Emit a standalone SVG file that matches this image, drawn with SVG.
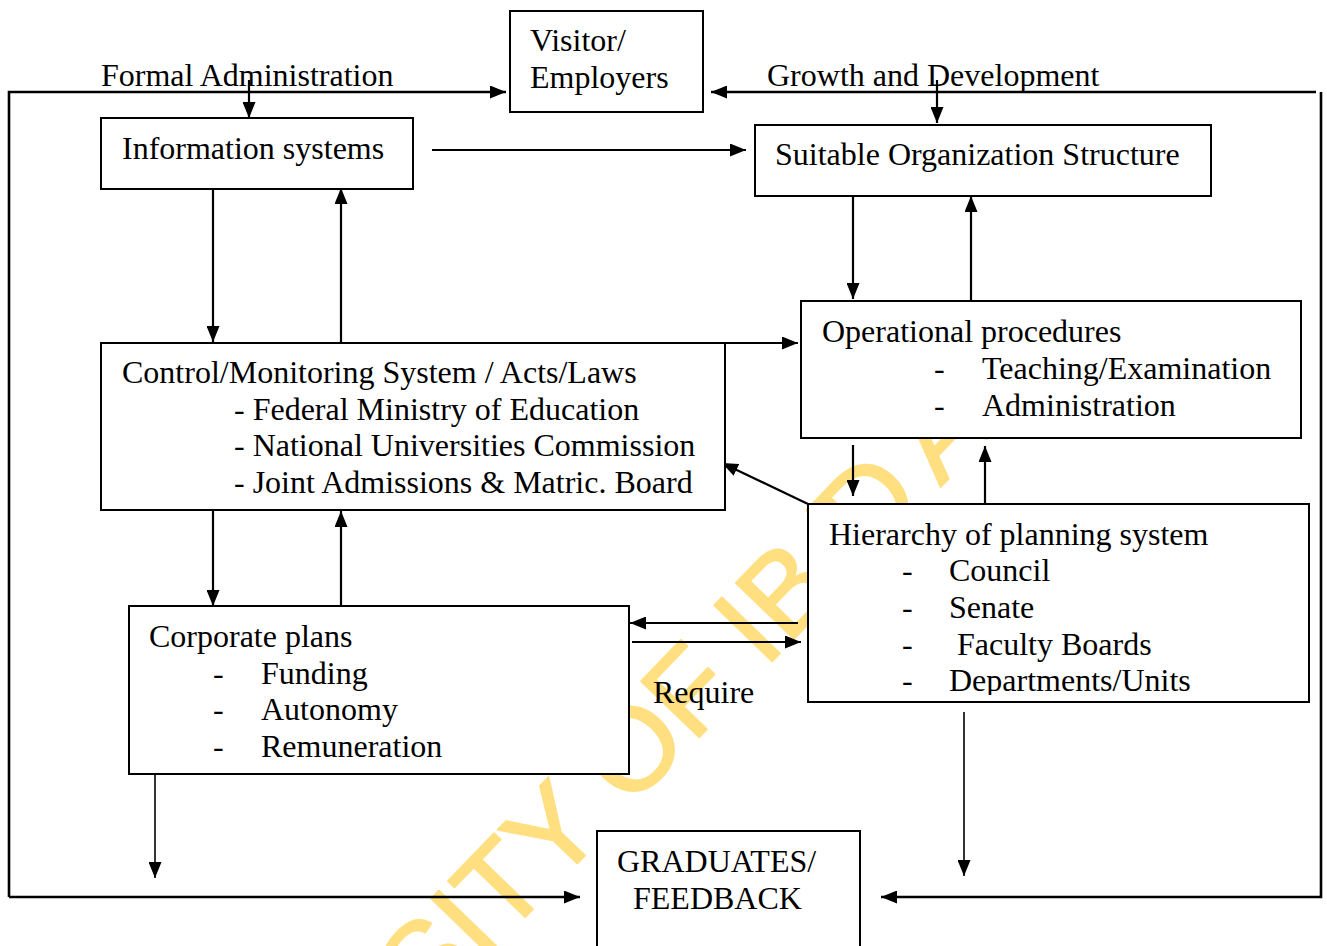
<svg xmlns="http://www.w3.org/2000/svg" width="1327" height="946" viewBox="0 0 1327 946">
<defs>
<style>
.box{fill:#fff;stroke:#000;stroke-width:2}
.t{font-family:"Liberation Serif","Times New Roman",serif;font-size:32px;fill:#000}
.c{fill:none;stroke:#000;stroke-width:2.2}
.thick{stroke-width:2.6}
.thin{stroke-width:1.6}
.wm{font-family:"Liberation Sans",Arial,sans-serif;font-size:117px;fill:#FFDF80;stroke:#FFDF80;stroke-width:2;stroke-linejoin:round}
</style>
<marker id="ah" markerUnits="userSpaceOnUse" markerWidth="17" markerHeight="13" refX="16" refY="6.5" orient="auto">
<path d="M0,0 L16,6.5 L0,13 z" fill="#000"/>
</marker>
<clipPath id="hclip"><rect x="800" y="500" width="520" height="195"/></clipPath>
</defs>
<rect width="1327" height="946" fill="#fff"/>
<text class="wm" transform="translate(120.5,1336.3) rotate(-46)">UNIVERSITY OF IBA<tspan dx="-40">D</tspan><tspan dx="20">AN</tspan></text>

<g id="connectors">
<path class="c thick" d="M9,897 L9,92 L506,92" marker-end="url(#ah)"/>
<path class="c thick" d="M9,897 L580,897" marker-end="url(#ah)"/>
<path class="c thick" d="M1316,92 L711,92" marker-end="url(#ah)"/>
<path class="c thick" d="M1321,92 L1321,897 L881,897" marker-end="url(#ah)"/>
<path class="c" d="M249,80 L249,118" marker-end="url(#ah)"/>
<path class="c" d="M937,80 L937,123" marker-end="url(#ah)"/>
<path class="c" d="M432,150 L746,150" marker-end="url(#ah)"/>
<path class="c" d="M213,190 L213,342" marker-end="url(#ah)"/>
<path class="c" d="M341,342 L341,188" marker-end="url(#ah)"/>
<path class="c" d="M853,197 L853,299" marker-end="url(#ah)"/>
<path class="c" d="M971,305 L971,196" marker-end="url(#ah)"/>
<path class="c" d="M725,343 L798,343" marker-end="url(#ah)"/>
<path class="c" d="M853,445 L853,496" marker-end="url(#ah)"/>
<path class="c" d="M985,504 L985,446" marker-end="url(#ah)"/>
<path class="c" d="M808,504 L722,463" marker-end="url(#ah)"/>
<path class="c" d="M213,511 L213,606" marker-end="url(#ah)"/>
<path class="c" d="M341,606 L341,511" marker-end="url(#ah)"/>
<path class="c" d="M798,623 L630,623" marker-end="url(#ah)"/>
<path class="c" d="M632,642 L801,642" marker-end="url(#ah)"/>
<path class="c thin" d="M155,775 L155,878" marker-end="url(#ah)"/>
<path class="c thin" d="M964,712 L964,876" marker-end="url(#ah)"/>
</g>

<g id="label-formal"><text class="t" x="101" y="86">Formal Administration</text></g>
<g id="label-growth"><text class="t" x="767" y="86">Growth and Development</text></g>
<g id="label-require"><text class="t" x="653" y="703">Require</text></g>

<g id="visitor">
<rect class="box" x="510" y="11" width="193" height="101"/>
<text class="t" x="530" y="51">Visitor/</text>
<text class="t" x="530" y="88">Employers</text>
</g>

<g id="info">
<rect class="box" x="101" y="118" width="312" height="71"/>
<text class="t" x="122" y="159">Information systems</text>
</g>

<g id="suitable">
<rect class="box" x="755" y="125" width="456" height="71"/>
<text class="t" x="775" y="165">Suitable Organization Structure</text>
</g>

<g id="control">
<rect class="box" x="101" y="343" width="624" height="167"/>
<text class="t" x="122" y="383">Control/Monitoring System / Acts/Laws</text>
<text class="t" x="234" y="420">- Federal Ministry of Education</text>
<text class="t" x="234" y="456">- National Universities Commission</text>
<text class="t" x="234" y="493">- Joint Admissions &amp; Matric. Board</text>
</g>

<g id="operational">
<rect class="box" x="801" y="301" width="500" height="137"/>
<text class="t" x="822" y="342">Operational procedures</text>
<text class="t" x="934" y="379">-</text>
<text class="t" x="982" y="379">Teaching/Examination</text>
<text class="t" x="934" y="416">-</text>
<text class="t" x="982" y="416">Administration</text>
</g>

<g id="hierarchy">
<rect class="box" x="808" y="504" width="501" height="198"/>
<g clip-path="url(#hclip)">
<text class="t" x="829" y="545">Hierarchy of planning system</text>
<text class="t" x="902" y="581">-</text>
<text class="t" x="949" y="581">Council</text>
<text class="t" x="902" y="618">-</text>
<text class="t" x="949" y="618">Senate</text>
<text class="t" x="902" y="655">-</text>
<text class="t" x="957" y="655">Faculty Boards</text>
<text class="t" x="902" y="691">-</text>
<text class="t" x="949" y="691">Departments/Units</text>
</g>
</g>

<g id="corporate">
<rect class="box" x="129" y="606" width="500" height="168"/>
<text class="t" x="149" y="647">Corporate plans</text>
<text class="t" x="213" y="684">-</text>
<text class="t" x="261" y="684">Funding</text>
<text class="t" x="213" y="720">-</text>
<text class="t" x="261" y="720">Autonomy</text>
<text class="t" x="213" y="757">-</text>
<text class="t" x="261" y="757">Remuneration</text>
</g>

<g id="graduates">
<rect class="box" x="597" y="831" width="263" height="130"/>
<text class="t" x="617" y="872">GRADUATES/</text>
<text class="t" x="633" y="909">FEEDBACK</text>
</g>
</svg>
